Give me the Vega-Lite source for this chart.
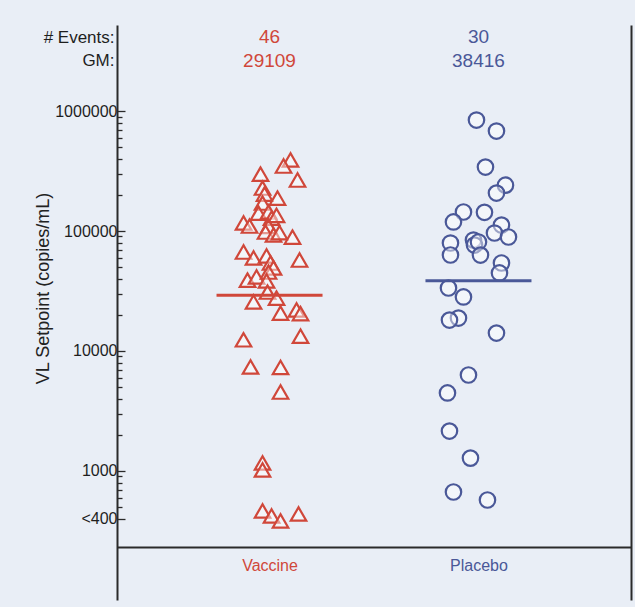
{
  "$schema": "https://vega.github.io/schema/vega-lite/v6.json",
  "autosize": "none",
  "width": 514,
  "height": 575,
  "padding": {"left": 117, "top": 25, "right": 4, "bottom": 7},
  "background": "#e9eef6",
  "config": {
    "view": {"stroke": null},
    "font": "Liberation Sans"
  },
  "datasets": {
    "points": [
      {"group": "Vaccine", "vl": 391000, "jitter": 2.1},
      {"group": "Vaccine", "vl": 348000, "jitter": 1.4},
      {"group": "Vaccine", "vl": 298000, "jitter": -0.9},
      {"group": "Vaccine", "vl": 266000, "jitter": 2.8},
      {"group": "Vaccine", "vl": 228000, "jitter": -0.7},
      {"group": "Vaccine", "vl": 203000, "jitter": -0.5},
      {"group": "Vaccine", "vl": 188000, "jitter": 0.8},
      {"group": "Vaccine", "vl": 171000, "jitter": -0.7},
      {"group": "Vaccine", "vl": 141000, "jitter": -1.1},
      {"group": "Vaccine", "vl": 144000, "jitter": -0.1},
      {"group": "Vaccine", "vl": 128000, "jitter": 0.2},
      {"group": "Vaccine", "vl": 116700, "jitter": -2.6},
      {"group": "Vaccine", "vl": 110000, "jitter": -2.0},
      {"group": "Vaccine", "vl": 109000, "jitter": -0.1},
      {"group": "Vaccine", "vl": 98000, "jitter": -0.4},
      {"group": "Vaccine", "vl": 92600, "jitter": 0.4},
      {"group": "Vaccine", "vl": 97000, "jitter": 1.0},
      {"group": "Vaccine", "vl": 89000, "jitter": 2.3},
      {"group": "Vaccine", "vl": 66800, "jitter": -2.6},
      {"group": "Vaccine", "vl": 59600, "jitter": -1.6},
      {"group": "Vaccine", "vl": 61900, "jitter": -0.3},
      {"group": "Vaccine", "vl": 54100, "jitter": 0.1},
      {"group": "Vaccine", "vl": 57300, "jitter": 3.0},
      {"group": "Vaccine", "vl": 49200, "jitter": 0.4},
      {"group": "Vaccine", "vl": 39000, "jitter": -2.2},
      {"group": "Vaccine", "vl": 41400, "jitter": -1.3},
      {"group": "Vaccine", "vl": 45500, "jitter": -0.1},
      {"group": "Vaccine", "vl": 38300, "jitter": -0.3},
      {"group": "Vaccine", "vl": 31000, "jitter": -0.2},
      {"group": "Vaccine", "vl": 25600, "jitter": -1.6},
      {"group": "Vaccine", "vl": 27600, "jitter": 0.7},
      {"group": "Vaccine", "vl": 20700, "jitter": 1.1},
      {"group": "Vaccine", "vl": 22000, "jitter": 2.7},
      {"group": "Vaccine", "vl": 20500, "jitter": 3.1},
      {"group": "Vaccine", "vl": 12400, "jitter": -2.6},
      {"group": "Vaccine", "vl": 13300, "jitter": 3.1},
      {"group": "Vaccine", "vl": 7360, "jitter": -1.9},
      {"group": "Vaccine", "vl": 7300, "jitter": 1.1},
      {"group": "Vaccine", "vl": 4550, "jitter": 1.1},
      {"group": "Vaccine", "vl": 1166, "jitter": -0.7},
      {"group": "Vaccine", "vl": 1020, "jitter": -0.7},
      {"group": "Vaccine", "vl": 464, "jitter": -0.7},
      {"group": "Vaccine", "vl": 422, "jitter": 0.2},
      {"group": "Vaccine", "vl": 383, "jitter": 1.1},
      {"group": "Vaccine", "vl": 438, "jitter": 2.9},
      {"group": "Vaccine", "vl": 135000, "jitter": 0.7},
      {"group": "Placebo", "vl": 841000, "jitter": -0.2},
      {"group": "Placebo", "vl": 681000, "jitter": 1.8},
      {"group": "Placebo", "vl": 341000, "jitter": 0.7},
      {"group": "Placebo", "vl": 241000, "jitter": 2.7},
      {"group": "Placebo", "vl": 207000, "jitter": 1.8},
      {"group": "Placebo", "vl": 144000, "jitter": -1.5},
      {"group": "Placebo", "vl": 143000, "jitter": 0.6},
      {"group": "Placebo", "vl": 119000, "jitter": -2.5},
      {"group": "Placebo", "vl": 112000, "jitter": 2.3},
      {"group": "Placebo", "vl": 96200, "jitter": 1.6},
      {"group": "Placebo", "vl": 89100, "jitter": 3.0},
      {"group": "Placebo", "vl": 79400, "jitter": -2.8},
      {"group": "Placebo", "vl": 84100, "jitter": -0.5},
      {"group": "Placebo", "vl": 76400, "jitter": -0.4},
      {"group": "Placebo", "vl": 81000, "jitter": 0.0},
      {"group": "Placebo", "vl": 63100, "jitter": -2.8},
      {"group": "Placebo", "vl": 63000, "jitter": 0.2},
      {"group": "Placebo", "vl": 54100, "jitter": 2.3},
      {"group": "Placebo", "vl": 44700, "jitter": 2.1},
      {"group": "Placebo", "vl": 33500, "jitter": -3.0},
      {"group": "Placebo", "vl": 28200, "jitter": -1.5},
      {"group": "Placebo", "vl": 18800, "jitter": -2.0},
      {"group": "Placebo", "vl": 18100, "jitter": -2.9},
      {"group": "Placebo", "vl": 14100, "jitter": 1.8},
      {"group": "Placebo", "vl": 6310, "jitter": -1.0},
      {"group": "Placebo", "vl": 4470, "jitter": -3.1},
      {"group": "Placebo", "vl": 2150, "jitter": -2.9},
      {"group": "Placebo", "vl": 1280, "jitter": -0.8},
      {"group": "Placebo", "vl": 668, "jitter": -2.5},
      {"group": "Placebo", "vl": 573, "jitter": 0.9}
    ],
    "summary": [
      {"group": "Vaccine", "events": 46, "gm": 29109},
      {"group": "Placebo", "events": 30, "gm": 38416}
    ]
  },
  "encoding": {
    "x": {
      "field": "group",
      "type": "nominal",
      "sort": ["Vaccine", "Placebo"],
      "scale": {"type": "point", "padding": 0.73},
      "axis": {
        "title": null,
        "orient": "bottom",
        "offset": -53,
        "ticks": false,
        "domainColor": "#2a2a2a",
        "domainWidth": 2,
        "labelAngle": 0,
        "labelFontSize": 16,
        "labelPadding": 10,
        "labelFont": "Liberation Sans",
        "labelColor": {"condition": {"test": "datum.value == 'Vaccine'", "value": "#d0473a"}, "value": "#4a5898"}
      }
    },
    "color": {
      "field": "group",
      "type": "nominal",
      "scale": {"domain": ["Vaccine", "Placebo"], "range": ["#d0473a", "#4a5898"]},
      "legend": null
    }
  },
  "layer": [
    {
      "data": {"name": "points"},
      "mark": {"type": "point", "filled": false, "strokeWidth": 2.2, "fill": "#ffffff", "fillOpacity": 0.45, "opacity": 1},
      "encoding": {
        "xOffset": {"field": "jitter", "type": "quantitative", "scale": {"domain": [-5, 5], "range": [-50, 50]}},
        "y": {
          "field": "vl",
          "type": "quantitative",
          "scale": {"type": "log", "domain": [84.1, 5210000], "nice": false},
          "axis": {
            "orient": "left",
            "title": "VL Setpoint (copies/mL)",
            "titleFontSize": 18,
            "titleFontWeight": "normal",
            "titleColor": "#222222",
            "titleFont": "Liberation Sans",
            "titleAngle": -90,
            "titleAlign": "center",
            "titleBaseline": "middle",
            "titleX": -74,
            "titleY": 263,
            "grid": false,
            "domainColor": "#2a2a2a",
            "domainWidth": 2,
            "values": [400, 500, 600, 700, 800, 900, 1000, 2000, 3000, 4000, 5000, 6000, 7000, 8000, 9000, 10000, 20000, 30000, 40000, 50000, 60000, 70000, 80000, 90000, 100000, 200000, 300000, 400000, 500000, 600000, 700000, 800000, 900000, 1000000, 2620000, 4100000],
            "labelExpr": "datum.value == 400 ? '<400' : (datum.value > 3000000 ? '# Events:' : (datum.value > 2000000 ? 'GM:' : (indexof([1000, 10000, 100000, 1000000], datum.value) >= 0 ? format(datum.value, 'd') : '')))",
            "labelFontSize": {"condition": {"test": "datum.value > 2000000", "value": 17}, "value": 16},
            "labelColor": "#1e1e1e",
            "labelFont": "Liberation Sans",
            "labelPadding": 8,
            "tickColor": {"condition": {"test": "datum.value > 2000000", "value": "transparent"}, "value": "#2a2a2a"},
            "tickSize": {"condition": {"test": "indexof([400, 1000, 10000, 100000, 1000000], datum.value) >= 0", "value": -8}, "value": -5},
            "tickWidth": 1.3
          }
        },
        "shape": {
          "field": "group",
          "type": "nominal",
          "scale": {"domain": ["Vaccine", "Placebo"], "range": ["triangle-up", "circle"]},
          "legend": null
        },
        "size": {"value": 240}
      }
    },
    {
      "data": {"name": "summary"},
      "mark": {"type": "tick", "size": 106, "thickness": 3, "opacity": 1},
      "encoding": {
        "y": {
          "field": "gm",
          "type": "quantitative",
          "axis": {"orient": "right", "title": null, "labels": false, "ticks": false, "grid": false, "domainColor": "#2a2a2a", "domainWidth": 2}
        },
        "color": {
          "field": "group",
          "type": "nominal",
          "scale": {"domain": ["Vaccine", "Placebo"], "range": ["#c83a2e", "#2f5095"]},
          "legend": null
        }
      }
    },
    {
      "data": {"name": "summary"},
      "mark": {"type": "text", "fontSize": 19, "font": "Liberation Sans", "align": "center", "baseline": "middle"},
      "encoding": {
        "y": {"datum": 4100000, "type": "quantitative", "axis": null},
        "text": {"field": "events", "type": "quantitative"}
      }
    },
    {
      "data": {"name": "summary"},
      "mark": {"type": "text", "fontSize": 19, "font": "Liberation Sans", "align": "center", "baseline": "middle"},
      "encoding": {
        "y": {"datum": 2620000, "type": "quantitative", "axis": null},
        "text": {"field": "gm", "type": "quantitative", "format": "d"}
      }
    }
  ],
  "resolve": {"axis": {"y": "independent"}}
}
